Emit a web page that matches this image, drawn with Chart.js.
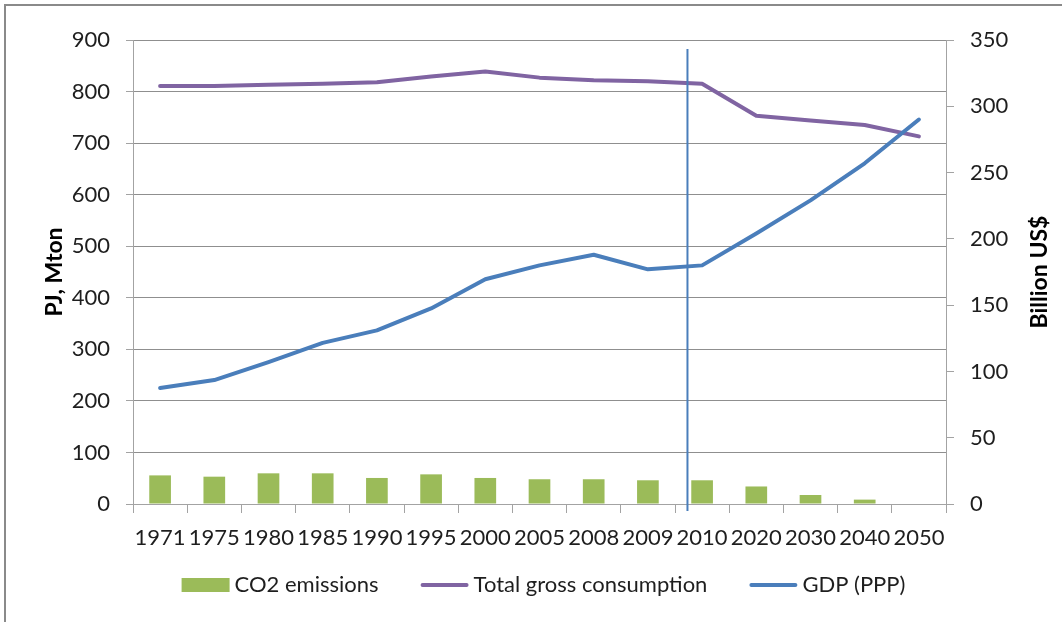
<!DOCTYPE html>
<html><head><meta charset="utf-8">
<script src="https://cdn.jsdelivr.net/npm/chart.js@4.4.1/dist/chart.umd.min.js"></script>
<style>
html,body{margin:0;padding:0;background:#fff;}
#wrap{position:relative;width:1062px;height:622px;overflow:hidden;}
#frame{position:absolute;left:4px;top:4px;width:1070px;height:640px;border-left:2px solid #8a8a8a;border-top:2px solid #8a8a8a;pointer-events:none;}
canvas{position:absolute;left:0;top:0;}
</style></head><body>
<div id="wrap"><canvas id="c" width="1062" height="622"></canvas><div id="frame"></div></div>
<script>
const categories = ['1971','1975','1980','1985','1990','1995','2000','2005','2008','2009','2010','2020','2030','2040','2050'];
const co2Emissions = [55.5, 53, 59.5, 59.5, 50.5, 57.5, 50.5, 48, 48, 46, 46, 34, 17.5, 8.5, 0];
const totalGrossConsumption = [811, 811, 813, 815, 818, 829, 839, 827, 822, 820, 815, 753, 744, 735, 713];
const gdpPPP = [87.5, 93.5, 107, 121.5, 131, 147.5, 169.5, 180, 188, 177, 180, 204, 229, 257, 290];
const leftAxisTicks = [0, 100, 200, 300, 400, 500, 600, 700, 800, 900];
const rightAxisTicks = [0, 50, 100, 150, 200, 250, 300, 350];
const leftAxisTitle = 'PJ, Mton';
const rightAxisTitle = 'Billion US$';
const dividerPosition = 9.73; // between 2009 and 2010, in category units

const FONT_FAMILY = 'Lato, "Open Sans", sans-serif';
const FONT_SIZE = 22;
const TITLE_SIZE = 23;
const GREEN = '#9BBB59', PURPLE = '#8064A2', BLUE = '#4A7EBB';
const GRID = '#8f8f8f', AXIS = '#a3a3a3', TEXT = '#1e1e1e';

const dividerPlugin = {
  id: 'divider',
  afterDatasetsDraw(chart) {
    const x = chart.scales.x.getPixelForValue(dividerPosition);
    const a = chart.chartArea;
    const ctx = chart.ctx;
    ctx.save();
    ctx.strokeStyle = BLUE;
    ctx.lineWidth = 2;
    ctx.beginPath();
    ctx.moveTo(x, a.top + 9);
    ctx.lineTo(x, a.bottom + 7);
    ctx.stroke();
    ctx.restore();
  }
};

const rightTitlePlugin = {
  id: 'rightTitle',
  afterDraw(chart) {
    const s = chart.scales.y1;
    const a = chart.chartArea;
    const ctx = chart.ctx;
    ctx.save();
    ctx.font = 'bold ' + TITLE_SIZE + 'px ' + FONT_FAMILY;
    ctx.fillStyle = '#000';
    ctx.textAlign = 'center';
    ctx.textBaseline = 'middle';
    ctx.translate(s.right - 22, (a.top + a.bottom) / 2);
    ctx.rotate(-Math.PI / 2);
    ctx.fillText(rightAxisTitle, 0, 0);
    ctx.restore();
  }
};

const legendPlugin = {
  id: 'customLegend',
  afterDraw(chart) {
    const ctx = chart.ctx;
    const a = chart.chartArea;
    ctx.save();
    ctx.font = FONT_SIZE + 'px ' + FONT_FAMILY;
    ctx.textBaseline = 'middle';
    ctx.textAlign = 'left';
    const items = chart.data.datasets.map(ds => ({
      label: ds.label,
      color: ds.type === 'line' ? ds.borderColor : ds.backgroundColor,
      kind: ds.type === 'line' ? 'line' : 'box'
    }));
    const symW = 48, gap = 5, spacing = 42;
    let total = 0;
    items.forEach((it, i) => {
      it.tw = ctx.measureText(it.label).width;
      total += symW + gap + it.tw + (i < items.length - 1 ? spacing : 0);
    });
    let x = (a.left + a.right) / 2 + 4 - total / 2;
    const y = 585;
    items.forEach(it => {
      if (it.kind === 'box') {
        ctx.fillStyle = it.color;
        ctx.fillRect(x, y - 7, symW, 14);
      } else {
        ctx.strokeStyle = it.color;
        ctx.lineWidth = 4;
        ctx.lineCap = 'round';
        ctx.beginPath();
        ctx.moveTo(x + 2, y);
        ctx.lineTo(x + symW - 2, y);
        ctx.stroke();
      }
      ctx.fillStyle = TEXT;
      ctx.fillText(it.label, x + symW + gap, y);
      x += symW + gap + it.tw + spacing;
    });
    ctx.restore();
  }
};

new Chart(document.getElementById('c'), {
  type: 'bar',
  data: {
    labels: categories,
    datasets: [
      { type: 'bar', label: 'CO2 emissions', data: co2Emissions, backgroundColor: GREEN,
        yAxisID: 'y', order: 3, categoryPercentage: 1.0, barPercentage: 0.4 },
      { type: 'line', label: 'Total gross consumption', data: totalGrossConsumption, borderColor: PURPLE,
        backgroundColor: PURPLE, borderWidth: 4, pointRadius: 0, tension: 0, yAxisID: 'y', order: 2,
        borderCapStyle: 'round', borderJoinStyle: 'round' },
      { type: 'line', label: 'GDP (PPP)', data: gdpPPP, borderColor: BLUE,
        backgroundColor: BLUE, borderWidth: 4, pointRadius: 0, tension: 0, yAxisID: 'y1', order: 1,
        borderCapStyle: 'round', borderJoinStyle: 'round' }
    ]
  },
  options: {
    responsive: false,
    animation: false,
    devicePixelRatio: 1,
    layout: { padding: { top: 40, bottom: 62, left: 0, right: 0 } },
    plugins: { legend: { display: false }, tooltip: { enabled: false } },
    scales: {
      x: {
        offset: true,
        grid: { offset: true, drawOnChartArea: false, tickLength: 9, color: AXIS, lineWidth: 1 },
        border: { color: AXIS, width: 1 },
        ticks: { autoSkip: false, maxRotation: 0, minRotation: 0, padding: 12, color: TEXT,
          font: { family: FONT_FAMILY, size: FONT_SIZE } },
        afterFit(s) { s.height = 56; }
      },
      y: {
        position: 'left',
        min: leftAxisTicks[0], max: leftAxisTicks[leftAxisTicks.length - 1],
        afterBuildTicks(s) { s.ticks = leftAxisTicks.map(v => ({ value: v })); },
        grid: { color: GRID, lineWidth: 1, tickLength: 7, tickColor: AXIS },
        border: { color: AXIS, width: 1 },
        ticks: { padding: 16, color: TEXT, font: { family: FONT_FAMILY, size: FONT_SIZE } },
        title: { display: true, text: leftAxisTitle, color: '#000',
          font: { family: FONT_FAMILY, size: TITLE_SIZE, weight: 'bold' }, padding: { top: 41, bottom: 0 } },
        afterFit(s) { s.width = 133; }
      },
      y1: {
        position: 'right',
        min: rightAxisTicks[0], max: rightAxisTicks[rightAxisTicks.length - 1],
        afterBuildTicks(s) { s.ticks = rightAxisTicks.map(v => ({ value: v })); },
        grid: { drawOnChartArea: false, tickLength: 8, color: AXIS, lineWidth: 1 },
        border: { color: AXIS, width: 1 },
        ticks: { padding: 16, color: TEXT, font: { family: FONT_FAMILY, size: FONT_SIZE } },
        title: { display: false },
        afterFit(s) { s.width = 116; }
      }
    }
  },
  plugins: [dividerPlugin, rightTitlePlugin, legendPlugin]
});
</script>
</body></html>
